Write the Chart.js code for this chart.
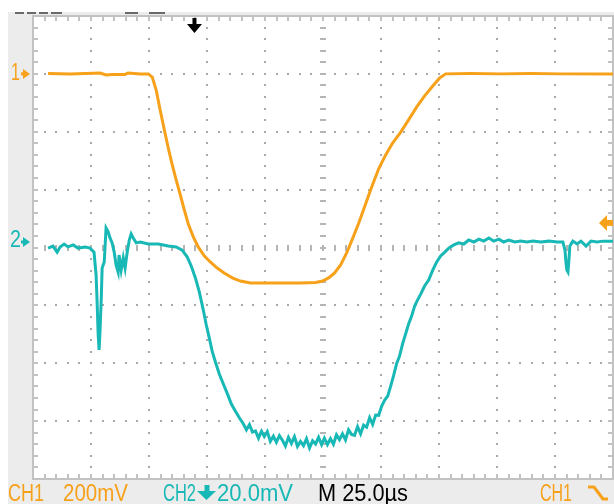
<!DOCTYPE html>
<html>
<head>
<meta charset="utf-8">
<script src="https://cdn.jsdelivr.net/npm/chart.js@4/dist/chart.umd.min.js"></script>
<style>
  html,body{margin:0;padding:0;background:#fff;}
  #wrap{position:relative;width:614px;height:504px;overflow:hidden;}
  #c{position:absolute;left:0;top:0;}
  .lbl{position:absolute;white-space:nowrap;font-family:"Liberation Sans",Arial,sans-serif;font-size:23px;line-height:23px;transform-origin:0 0;}
</style>
</head>
<body>
<div id="wrap">
  <canvas id="c" width="614" height="504"></canvas>
</div>
<script>
// ---- data (time in microseconds, channel values in mV) ----
const TIME_PER_DIV_US = 25;
const CH1_MV_PER_DIV = 200;
const CH2_MV_PER_DIV = 20;
const CH1_POS_DIV = 3;      // channel 1 ground marker position
const CH2_POS_DIV = 0.095;  // channel 2 ground marker position
const TRIGGER_TIME_US = 69.6;
const TRIGGER_LEVEL_CH1_MV = -515;

const CH1_TIME_US = [6.5,16.0,28.9,31.5,34.1,39.7,41.0,46.2,49.7,51.4,53.1,54.8,56.6,58.3,60.0,61.7,63.5,65.2,66.9,69.1,71.2,73.8,76.4,79.4,82.4,85.9,89.4,93.7,100.2,106.7,115.3,121.8,124.8,127.4,130.0,132.6,135.2,137.7,140.3,142.9,145.5,149.0,152.0,155.0,158.5,161.9,165.4,168.8,172.3,175.3,177.9,188.7,201.7,214.6,227.6,250.0];
const CH1_MV = [1,0,3,-4,-2,-2,3,0,0,-11,-56,-125,-193,-256,-314,-366,-418,-470,-518,-563,-598,-629,-650,-671,-688,-705,-716,-723,-723,-723,-723,-721,-716,-705,-688,-660,-619,-570,-518,-460,-401,-328,-280,-239,-201,-159,-114,-76,-42,-14,0,1,0,1,0,0];

const CH2_TIME_US = [6.5,8.6,10.4,11.7,13.4,15.1,17.3,19.4,22.5,24.6,
26.3,27.2,27.6,28.1,28.5,28.9,29.4,29.8,30.7,31.5,
32.4,33.2,34.1,35.0,35.8,36.7,37.1,38.0,38.9,39.7,
40.6,41.5,42.3,43.2,44.5,46.2,49.7,54.0,58.3,61.7,
64.3,66.5,68.2,70.0,71.7,73.4,74.7,76.0,77.3,78.6,
80.3,82.0,83.8,85.5,87.2,89.0,90.7,92.0,93.3,94.6,
95.9,97.2,98.5,99.7,101.0,102.3,103.6,104.9,106.2,107.5,
108.8,110.1,111.4,112.7,114.0,115.3,116.6,117.9,119.2,120.5,
121.8,123.1,124.4,125.6,126.9,128.2,129.5,130.8,132.1,133.4,
134.7,136.0,137.3,138.6,139.9,141.2,142.5,143.8,145.1,146.4,
147.7,149.0,150.3,151.6,152.9,154.2,155.4,156.7,158.0,159.3,
160.6,161.9,163.2,164.5,165.8,167.1,168.8,170.6,172.3,174.0,
175.7,177.5,179.2,181.4,183.5,185.7,187.8,190.0,192.2,194.3,
196.5,198.6,200.8,202.9,205.1,207.7,210.3,212.9,215.5,218.9,
222.4,225.8,228.4,229.3,229.7,230.1,230.6,231.0,231.4,232.7,
234.5,236.2,238.4,240.5,243.1,245.7,250.0];
const CH2_MV = [-2.1,-1.4,-3.5,-1.7,-0.7,-1.7,-1.0,-2.1,-1.7,-2.1,
-3.5,-11.4,-20.0,-32.1,-37.3,-30.4,-20.0,-9.0,-6.9,4.8,
3.5,1.4,-0.3,-3.5,-7.9,-10.4,-4.5,-9.7,-5.5,-9.0,
-3.5,0.7,2.8,1.4,-0.3,0,-0.7,-0.7,-1.4,-1.7,
-2.8,-5.2,-8.3,-12.4,-17.3,-23.5,-28.7,-33.2,-38.0,-41.4,
-45.6,-49.0,-52.5,-56.0,-58.4,-60.8,-62.9,-64.9,-63.1,-65.7,
-65.3,-67.8,-65.4,-67.2,-65.5,-68.9,-67.1,-69.2,-66.9,-68.5,
-70.5,-67.5,-69.6,-67.3,-70.6,-68.9,-70.4,-68.0,-71.2,-68.7,
-69.8,-67.5,-70.0,-67.8,-70.0,-68.0,-69.9,-66.6,-68.3,-66.3,
-68.4,-64.9,-66.5,-66.8,-63.8,-66.3,-63.3,-64.0,-60.7,-63.0,
-59.8,-59.9,-56.7,-54.6,-53.2,-49.7,-46.3,-42.1,-39.4,-35.2,
-31.8,-28.3,-25.6,-22.1,-20.0,-18.0,-15.2,-13.1,-9.7,-6.9,
-4.8,-3.5,-2.1,-1.0,-0.3,-0.7,0.7,0,1.0,0.3,
1.4,0.3,1.0,0,0.7,0,0.3,0,0.3,0,
0.3,0,0,-2.8,-6.9,-9.7,-10.4,-6.2,-1.4,0.3,
-0.7,0.3,-1.4,0.3,0,0.3,0.3];

const STATUS_TEXTS = ['CH1', '200mV', 'CH2', '20.0mV', 'M 25.0\u00b5s', 'CH1'];
const MARKER_TEXTS = ['1', '2'];

// ---- styles ----
const ORANGE = '#f7a11a';
const TEAL = '#17b8b5';

function toPoints(times, vals, pos, perDiv) {
  const n = Math.min(times.length, vals.length);
  const out = [];
  for (let i = 0; i < n; i++) out.push({x: times[i], y: pos + vals[i] / perDiv});
  return out;
}

const scopePlugin = {
  id: 'scope',
  beforeDraw(chart) {
    const ctx = chart.ctx, W = chart.width, H = chart.height, a = chart.chartArea;
    const xs = chart.scales.x, ys = chart.scales.y;
    ctx.save();
    ctx.fillStyle = '#fff'; ctx.fillRect(0, 0, W, H);
    ctx.fillStyle = '#ececec'; ctx.fillRect(8, 12, W - 8, H - 12);
    ctx.fillStyle = '#fff'; ctx.fillRect(a.left, a.top, a.right - a.left, a.bottom - a.top);
    // cut-off header marks
    ctx.fillStyle = '#6a6a6a';
    [[15,9],[27,9],[39,9],[51,11],[125,13],[149,16]].forEach(([x,w]) => ctx.fillRect(x, 12, w, 2));
    // grid dots
    ctx.fillStyle = '#a9a9a9';
    const dot = (x, y) => ctx.fillRect(Math.round(x) - 1, Math.round(y) - 1, 2, 2);
    for (let i = 1; i < 10; i++) {
      if (i === 5) continue;
      const X = xs.getPixelForValue(i * TIME_PER_DIV_US);
      for (let k = 1; k < 40; k++) dot(X, ys.getPixelForValue(-4 + k * 0.2));
    }
    for (let j = -3; j <= 3; j++) {
      if (j === 0) continue;
      const Y = ys.getPixelForValue(j);
      for (let k = 1; k < 50; k++) dot(xs.getPixelForValue(k * TIME_PER_DIV_US / 5), Y);
    }
    // center cross ticks
    const Xc = Math.round(xs.getPixelForValue(5 * TIME_PER_DIV_US));
    const Yc = Math.round(ys.getPixelForValue(0));
    ctx.fillStyle = '#b5b5b5';
    for (let k = 1; k < 40; k++) {
      const Y = Math.round(ys.getPixelForValue(-4 + k * 0.2));
      ctx.fillRect(Xc - 3, Y - 1, 6, 2);
    }
    for (let k = 1; k < 50; k++) {
      const X = Math.round(xs.getPixelForValue(k * TIME_PER_DIV_US / 5));
      ctx.fillRect(X - 1, Yc - 3, 2, 6);
    }
    // border with ticks
    ctx.strokeStyle = '#c2c2c2'; ctx.lineWidth = 2;
    ctx.strokeRect(a.left, a.top, a.right - a.left, a.bottom - a.top);
    ctx.fillStyle = '#c2c2c2';
    for (let k = 1; k < 50; k++) {
      const X = Math.round(xs.getPixelForValue(k * TIME_PER_DIV_US / 5));
      ctx.fillRect(X - 1, a.top, 2, 5);
      ctx.fillRect(X - 1, a.bottom - 5, 2, 5);
    }
    for (let k = 1; k < 40; k++) {
      const Y = Math.round(ys.getPixelForValue(-4 + k * 0.2));
      ctx.fillRect(a.left, Y - 1, 5, 2);
      ctx.fillRect(a.right - 5, Y - 1, 5, 2);
    }
    ctx.restore();
  },
  afterDatasetsDraw(chart) {
    const ctx = chart.ctx, a = chart.chartArea;
    const xs = chart.scales.x, ys = chart.scales.y;
    ctx.save();
    // trigger position arrow (top)
    const tx = xs.getPixelForValue(TRIGGER_TIME_US);
    ctx.fillStyle = '#000';
    ctx.fillRect(tx - 2, a.top + 2, 4, 8);
    ctx.beginPath(); ctx.moveTo(tx - 7.5, a.top + 8); ctx.lineTo(tx + 7.5, a.top + 8); ctx.lineTo(tx, a.top + 17); ctx.closePath(); ctx.fill();
    // trigger level arrow (right)
    const ty = ys.getPixelForValue(CH1_POS_DIV + TRIGGER_LEVEL_CH1_MV / CH1_MV_PER_DIV);
    ctx.fillStyle = ORANGE;
    ctx.beginPath(); ctx.moveTo(a.right - 14, ty); ctx.lineTo(a.right - 6, ty - 8); ctx.lineTo(a.right - 6, ty + 8); ctx.closePath(); ctx.fill();
    ctx.fillRect(a.right - 7, ty - 3, 7, 6);
    // channel markers (left)
    const y1 = ys.getPixelForValue(CH1_POS_DIV), y2 = ys.getPixelForValue(CH2_POS_DIV);
    [[y1, ORANGE], [y2, TEAL]].forEach(([y, c]) => {
      ctx.fillStyle = c;
      ctx.beginPath(); ctx.moveTo(23, y - 5); ctx.lineTo(30, y); ctx.lineTo(23, y + 5); ctx.closePath(); ctx.fill();
      ctx.fillRect(21, y - 1.5, 4, 3);
    });
    // CH2 coupling arrow in status bar
    ctx.fillStyle = TEAL;
    ctx.fillRect(204.5, 485, 5, 7);
    ctx.beginPath(); ctx.moveTo(197, 491); ctx.lineTo(216, 491); ctx.lineTo(206.5, 500); ctx.closePath(); ctx.fill();
    // falling edge trigger symbol
    ctx.strokeStyle = ORANGE; ctx.lineWidth = 3; ctx.lineJoin = 'round';
    ctx.beginPath(); ctx.moveTo(588, 487); ctx.lineTo(594, 487); ctx.lineTo(603, 499); ctx.lineTo(608, 499); ctx.stroke();
    ctx.restore();
  }
};

const chart = new Chart(document.getElementById('c'), {
  type: 'line',
  data: {
    datasets: [
      {label: 'CH1', data: toPoints(CH1_TIME_US, CH1_MV, CH1_POS_DIV, CH1_MV_PER_DIV), borderColor: ORANGE, borderWidth: 3, pointRadius: 0, tension: 0, fill: false},
      {label: 'CH2', data: toPoints(CH2_TIME_US, CH2_MV, CH2_POS_DIV, CH2_MV_PER_DIV), borderColor: TEAL, borderWidth: 3, pointRadius: 0, tension: 0, fill: false}
    ]
  },
  options: {
    responsive: false,
    devicePixelRatio: 1,
    animation: false,
    layout: {padding: {left: 33, right: 1, top: 16, bottom: 25}},
    plugins: {legend: {display: false}, tooltip: {enabled: false}},
    scales: {
      x: {type: 'linear', min: 0, max: 10 * TIME_PER_DIV_US, display: false},
      y: {type: 'linear', min: -4, max: 4, display: false}
    }
  },
  plugins: [scopePlugin]
});

// ---- real-text labels ----
const wrap = document.getElementById('wrap');
function addLabel(text, left, baseline, width, color) {
  const s = document.createElement('span');
  s.className = 'lbl';
  s.textContent = text;
  s.style.color = color;
  s.style.left = left + 'px';
  s.style.top = (baseline - 19.6) + 'px';
  wrap.appendChild(s);
  const w = s.getBoundingClientRect().width;
  if (w > 0) s.style.transform = 'scaleX(' + (width / w) + ')';
}
const y1px = chart.scales.y.getPixelForValue(CH1_POS_DIV);
const y2px = chart.scales.y.getPixelForValue(CH2_POS_DIV);
addLabel(MARKER_TEXTS[0], 11, y1px + 7, 9, ORANGE);
addLabel(MARKER_TEXTS[1], 10, y2px + 6, 11, TEAL);
addLabel(STATUS_TEXTS[0], 8, 502, 36, ORANGE);
addLabel(STATUS_TEXTS[1], 63, 502, 65, ORANGE);
addLabel(STATUS_TEXTS[2], 163, 502, 33, TEAL);
addLabel(STATUS_TEXTS[3], 217, 502, 76, TEAL);
addLabel(STATUS_TEXTS[4], 318, 502, 90, '#000');
addLabel(STATUS_TEXTS[5], 540, 502, 32, ORANGE);
</script>
</body>
</html>
